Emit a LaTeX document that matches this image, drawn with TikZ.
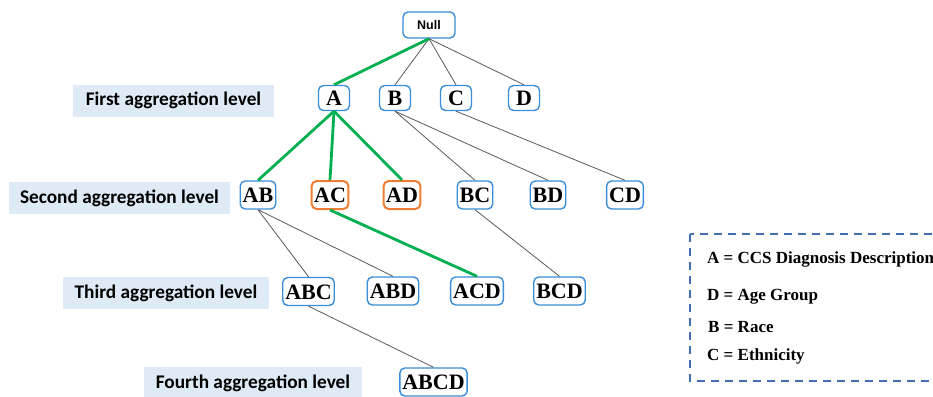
\documentclass[tikz,border=0pt]{standalone}
\usepackage{fontspec}
\setmainfont{Liberation Serif}
\newfontfamily\labelfont{Carlito}
\newfontfamily\rootfont{Liberation Sans}
\definecolor{boxblue}{RGB}{58,141,216}
\definecolor{boxorange}{RGB}{237,125,49}
\definecolor{pathgreen}{RGB}{0,176,80}
\definecolor{levelfill}{RGB}{222,235,247}
\definecolor{legendblue}{RGB}{68,108,176}
\tikzset{
	combo/.style = {draw=boxblue, line width=1.4pt, rounded corners=5pt, fill=white, font=\fontsize{22}{22}\selectfont\bfseries, text height=15pt, text depth=0pt, inner xsep=2.5pt, inner ysep=6.5pt, minimum width=31pt},
	picked/.style = {combo, draw=boxorange, line width=2pt},
	levelbox/.style = {fill=levelfill, font=\labelfont\fontsize{19.3}{19.3}\selectfont\bfseries, minimum height=32pt, inner sep=0pt},
	edgeline/.style = {draw=black!65, line width=0.8pt},
	greenline/.style = {draw=pathgreen, line width=2.8pt},
	keytext/.style = {anchor=west, inner sep=0pt, font=\fontsize{17}{17}\selectfont\bfseries},
}
\begin{document}
\begin{tikzpicture}[x=1pt, y=-1pt]
		\useasboundingbox (0,0) rectangle (933,396);
		\clip (0,0) rectangle (933,396);
		
		\node [levelbox, minimum width=201pt] (first) at (173.5,100.5) {First aggregation level};
		\node [levelbox, minimum width=221pt] (second) at (119.5,198) {Second aggregation level};
		\node [levelbox, minimum width=206pt] (third) at (166,293) {Third aggregation level};
		\node [levelbox, minimum width=218pt] (fourth) at (253,383) {Fourth aggregation level};
		
		\node [combo, font=\rootfont\fontsize{12.5}{12.5}\selectfont\bfseries, text height=9pt, minimum width=52pt, minimum height=26pt, inner ysep=0pt] (null) at (429,25) {Null};
		
		\node [combo, inner ysep=5pt] (A) at (334,98) {A};
		\node [combo, inner ysep=5pt] (B) at (395,98) {B};
		\node [combo, inner ysep=5pt] (C) at (456,98) {C};
		\node [combo, inner ysep=5pt] (D) at (524,98) {D};
		
		\node [combo] (AB) at (258,195) {AB};
		\node [picked] (AC) at (330,195) {AC};
		\node [picked] (AD) at (402,195) {AD};
		\node [combo] (BC) at (475,195) {BC};
		\node [combo] (BD) at (548,195) {BD};
		\node [combo] (CD) at (625,195) {CD};
		
		\node [combo] (ABC) at (308.5,291.5) {ABC};
		\node [combo] (ABD) at (393,291) {ABD};
		\node [combo] (ACD) at (477,291) {ACD};
		\node [combo] (BCD) at (559.5,291) {BCD};
		
		\node [combo] (ABCD) at (433.5,382) {ABCD};
		
		\draw [edgeline] (null.south) -- (B.north);
		\draw [edgeline] (null.south) -- (C.north);
		\draw [edgeline] (null.south) -- (D.north);
		\draw [edgeline] (B.south) -- (BC.north);
		\draw [edgeline] (B.south) -- (BD.north);
		\draw [edgeline] (C.south) -- (CD.north);
		\draw [edgeline] (AB.south) -- (ABC.north);
		\draw [edgeline] (AB.south) -- (ABD.north);
		\draw [edgeline] (BC.south) -- (BCD.north);
		\draw [edgeline] (ABC.south) -- (ABCD.north);
		
		\draw [greenline] (null.south) -- (A.north);
		\draw [greenline] (A.south) -- (AB.north);
		\draw [greenline] (A.south) -- (AC.north);
		\draw [greenline] (A.south) -- (AD.north);
		\draw [greenline] (AC.south) -- (ACD.north);
		
		\draw [legendblue, line width=2pt, dash pattern=on 8pt off 6pt] (690,234) rectangle (965,381);
		\node [keytext] (keyA) at (707,259) {A = CCS Diagnosis Description};
		\node [keytext] (keyD) at (707,297) {D = Age Group};
		\node [keytext] (keyB) at (708,327) {B = Race};
		\node [keytext] (keyC) at (707,356) {C = Ethnicity};
		
		\end{tikzpicture}
\end{document}
